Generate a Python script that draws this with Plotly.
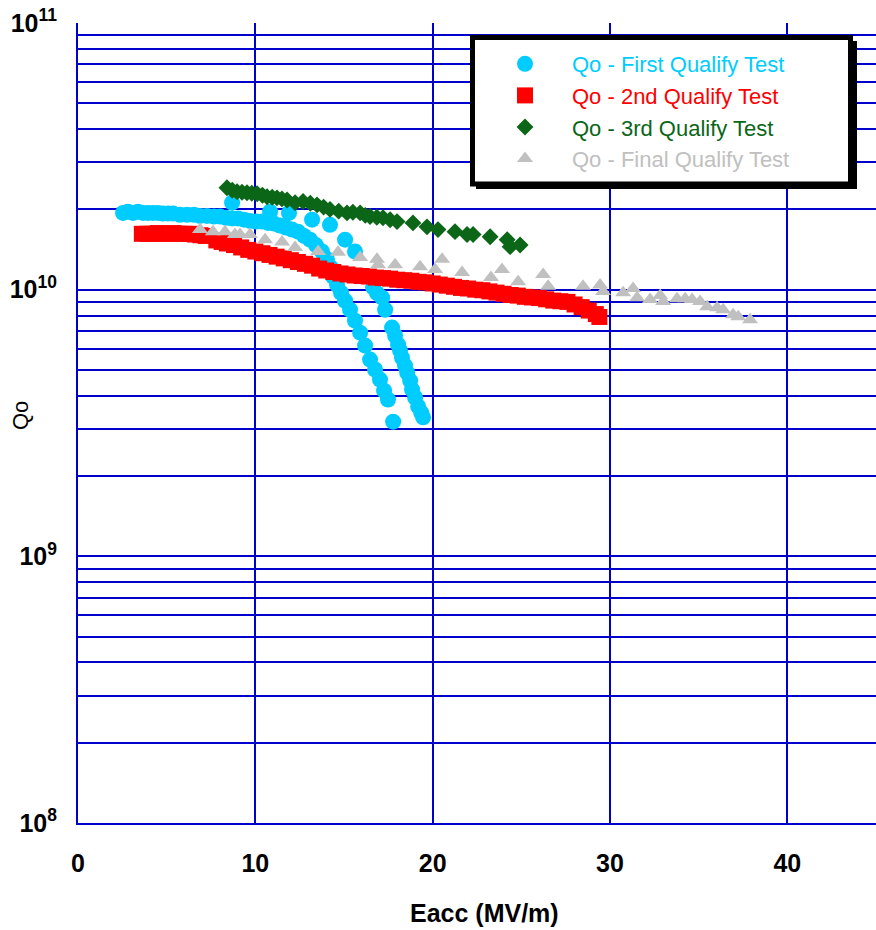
import plotly.graph_objects as go

# Eacc (MV/m) and Qo readings for each qualification test
first_eacc = [2.54, 2.82, 3.10, 3.38, 3.67, 3.95, 4.23, 4.51, 4.79, 5.08, 5.36, 5.75, 6.15, 6.54,
              6.88, 7.28, 7.67, 8.01, 8.35, 8.69, 9.02, 9.36, 9.70, 10.04, 10.38, 10.72, 11.05,
              11.39, 11.73, 12.07, 12.41, 12.75, 13.08, 13.42, 13.76, 14.04, 14.27, 14.38, 14.61,
              14.83, 15.06, 15.34, 15.62, 15.91, 16.19, 16.47, 16.75, 17.03, 17.26, 17.48, 17.77,
              8.69, 10.83, 11.90, 13.20, 14.21, 15.06, 15.62, 16.64, 16.86, 17.15, 17.32, 17.71,
              17.88, 18.05, 18.16, 18.27, 18.44, 18.56, 18.73, 18.84, 19.01, 19.18, 19.35, 19.46]
first_qo = [1.94e10, 1.96e10, 1.94e10, 1.96e10, 1.94e10, 1.94e10, 1.94e10, 1.94e10, 1.93e10,
            1.93e10, 1.93e10, 1.91e10, 1.91e10, 1.91e10, 1.89e10, 1.89e10, 1.88e10, 1.88e10,
            1.86e10, 1.85e10, 1.85e10, 1.83e10, 1.81e10, 1.80e10, 1.80e10, 1.78e10, 1.77e10,
            1.74e10, 1.71e10, 1.68e10, 1.65e10, 1.59e10, 1.54e10, 1.47e10, 1.39e10, 1.30e10,
            1.21e10, 1.12e10, 1.04e10, 9.74e9, 9.09e9, 8.41e9, 7.65e9, 6.90e9, 6.17e9, 5.47e9,
            5.02e9, 4.60e9, 4.18e9, 3.87e9, 3.20e9,
            2.12e10, 1.96e10, 1.94e10, 1.83e10, 1.75e10, 1.54e10, 1.39e10, 1.02e10, 9.70e9,
            9.33e9, 8.41e9, 7.21e9, 6.73e9, 6.22e9, 5.92e9, 5.56e9, 5.19e9, 4.89e9, 4.56e9,
            4.22e9, 3.94e9, 3.65e9, 3.46e9, 3.32e9]

second_eacc = [3.6, 3.9, 4.2, 4.5, 4.8, 5.1, 5.4, 5.7, 6.0, 6.3, 6.6, 6.9, 7.2, 7.8, 8.1, 8.4,
               8.8, 9.2, 9.6, 10.0, 10.4, 10.8, 11.2, 11.6, 12.0, 12.4, 12.8, 13.2, 13.6, 14.0,
               14.4, 14.8, 15.2, 15.6, 16.0, 16.4, 16.8, 17.2, 17.6, 18.0, 18.4, 18.8, 19.2,
               19.6, 20.0, 20.4, 20.8, 21.2, 21.6, 22.0, 22.4, 22.8, 23.2, 23.6, 24.0, 24.4,
               24.8, 25.2, 25.6, 26.0, 26.4, 26.8, 27.2, 27.6, 28.0, 28.4, 28.8, 29.2, 29.4]
second_qo = [1.62e10, 1.62e10, 1.62e10, 1.63e10, 1.62e10, 1.62e10, 1.63e10, 1.62e10, 1.62e10,
             1.62e10, 1.61e10, 1.60e10, 1.59e10, 1.53e10, 1.51e10, 1.49e10, 1.47e10, 1.44e10,
             1.41e10, 1.39e10, 1.37e10, 1.35e10, 1.33e10, 1.31e10, 1.29e10, 1.27e10, 1.25e10,
             1.23e10, 1.20e10, 1.18e10, 1.165e10, 1.15e10, 1.14e10, 1.13e10, 1.125e10, 1.12e10,
             1.11e10, 1.105e10, 1.10e10, 1.09e10, 1.085e10, 1.08e10, 1.07e10, 1.065e10,
             1.055e10, 1.045e10, 1.035e10, 1.025e10, 1.015e10, 1.01e10, 1.0e10, 9.95e9, 9.85e9,
             9.75e9, 9.65e9, 9.55e9, 9.5e9, 9.4e9, 9.35e9, 9.3e9, 9.2e9, 9.1e9, 9.05e9, 9.0e9,
             8.8e9, 8.6e9, 8.35e9, 8.1e9, 7.9e9]

third_eacc = [8.4, 8.7, 8.97, 9.25, 9.53, 9.8, 10.1, 10.4, 10.66, 10.95, 11.22, 11.5, 11.79,
              12.24, 12.69, 13.1, 13.48, 13.85, 14.21, 14.7, 15.17, 15.5, 15.91, 16.2, 16.47,
              16.85, 17.2, 17.6, 17.99, 18.89, 19.68, 20.3, 21.26, 21.94, 22.28, 23.24, 24.2,
              24.37, 24.93]
third_qo = [2.41e10, 2.36e10, 2.33e10, 2.32e10, 2.31e10, 2.30e10, 2.29e10, 2.26e10, 2.23e10,
            2.22e10, 2.21e10, 2.19e10, 2.17e10, 2.12e10, 2.14e10, 2.11e10, 2.08e10, 2.04e10,
            2.00e10, 1.97e10, 1.94e10, 1.95e10, 1.94e10, 1.90e10, 1.88e10, 1.87e10, 1.86e10,
            1.83e10, 1.80e10, 1.78e10, 1.72e10, 1.68e10, 1.65e10, 1.61e10, 1.61e10, 1.58e10,
            1.54e10, 1.45e10, 1.47e10]

final_eacc = [6.88, 7.61, 8.29, 8.85, 9.14, 9.70, 10.55, 11.51, 12.24, 13.54, 14.66, 15.91,
              16.86, 16.92, 17.88, 19.29, 20.14, 20.53, 21.66, 23.29, 23.91, 24.82, 26.23,
              26.51, 28.48, 29.44, 29.61, 30.74, 31.30, 31.53, 32.26, 32.83, 33.00, 33.78,
              34.24, 34.63, 35.08, 35.48, 36.04, 36.38, 36.94, 37.23, 37.90]
final_qo = [1.68e10, 1.65e10, 1.65e10, 1.61e10, 1.61e10, 1.61e10, 1.54e10, 1.51e10, 1.44e10,
            1.39e10, 1.38e10, 1.32e10, 1.30e10, 1.24e10, 1.24e10, 1.22e10, 1.19e10, 1.30e10,
            1.16e10, 1.11e10, 1.19e10, 1.07e10, 1.14e10, 1.03e10, 1.03e10, 1.04e10, 9.84e9,
            9.74e9, 1.01e10, 9.33e9, 9.18e9, 9.50e9, 9.02e9, 9.25e9, 9.25e9, 9.18e9, 9.02e9,
            8.63e9, 8.56e9, 8.41e9, 8.06e9, 7.92e9, 7.72e9]

x_ticks = [0, 10, 20, 30, 40]
decades = [8, 9, 10, 11]

FONT = "Liberation Sans, Arial, sans-serif"
GRID = "#0000CC"

# figure geometry in pixels
W, H = 876, 930
L, R, T, B = 78, 0, 23, 107
PW, PH = W - L - R, H - T - B


def px(xp):
    return (xp - L) / PW


def py(yp):
    return (H - B - yp) / PH


series = [
    ("Qo - First Qualify Test", first_eacc, first_qo, "#00CCFF", "circle", 16),
    ("Qo - 2nd Qualify Test", second_eacc, second_qo, "#FF0000", "square", 16),
    ("Qo - 3rd Qualify Test", third_eacc, third_qo, "#0B6618", "diamond", 13),
    ("Qo - Final Qualify Test", final_eacc, final_qo, "#C0C0C0", "triangle-up", 14),
]

fig = go.Figure()
for name, xs, ys, color, symbol, size in series:
    fig.add_trace(go.Scatter(
        x=xs, y=ys, mode="markers",
        name=f'<span style="color:{color}">{name}</span>',
        marker=dict(color=color, symbol=symbol, size=size, line=dict(width=0)),
    ))

# labelled ticks on each decade, grid lines on every integer multiple in between
major_vals = [10 ** d for d in decades]
major_text = [f"10<sup>{d}</sup>" for d in decades]
minor_vals = [k * 10 ** d for d in decades[:-1] for k in range(2, 10)]

grid_style = dict(showgrid=True, gridcolor=GRID, gridwidth=2)

fig.update_layout(
    width=W, height=H,
    margin=dict(l=L, r=R, t=T, b=B, pad=0),
    paper_bgcolor="white", plot_bgcolor="white",
    font=dict(family=FONT, color="black"),
    showlegend=True,
    legend=dict(
        x=px(478), y=py(43), xanchor="left", yanchor="top",
        bgcolor="rgba(0,0,0,0)", borderwidth=0,
        font=dict(family=FONT, size=22),
        itemwidth=84, tracegroupgap=0,
    ),
    xaxis=dict(
        range=[0, 45], tickvals=x_ticks,
        showline=True, linecolor=GRID, linewidth=2,
        zeroline=False, ticks="", ticklabelstandoff=17,
        tickfont=dict(family=FONT, size=25, color="black", weight="bold"),
        **grid_style,
    ),
    yaxis=dict(
        type="log", range=[decades[0], decades[-1]],
        tickvals=major_vals, ticktext=major_text,
        minor=dict(tickvals=minor_vals, ticks="", **grid_style),
        showline=True, linecolor=GRID, linewidth=2,
        zeroline=False, ticks="", ticklabelstandoff=14,
        tickfont=dict(family=FONT, size=25, color="black", weight="bold"),
        **grid_style,
    ),
    shapes=[
        # legend drop shadow and framed box
        dict(type="rect", xref="paper", yref="paper",
             x0=px(476), x1=px(857), y0=py(41), y1=py(189),
             fillcolor="black", line=dict(width=0), layer="above"),
        dict(type="rect", xref="paper", yref="paper",
             x0=px(472.5), x1=px(850.5), y0=py(37.5), y1=py(184),
             fillcolor="white", line=dict(color="black", width=5), layer="above"),
    ],
    annotations=[
        dict(text="<b>Eacc (MV/m)</b>", xref="paper", yref="paper",
             x=px(484), y=py(913), xanchor="center", yanchor="middle",
             showarrow=False, font=dict(family=FONT, size=25, color="black")),
        dict(text="Qo", xref="paper", yref="paper", textangle=-90,
             x=px(20), y=py(416), xanchor="center", yanchor="middle",
             showarrow=False, font=dict(family=FONT, size=22, color="black")),
    ],
)

fig.write_html("out.html")
